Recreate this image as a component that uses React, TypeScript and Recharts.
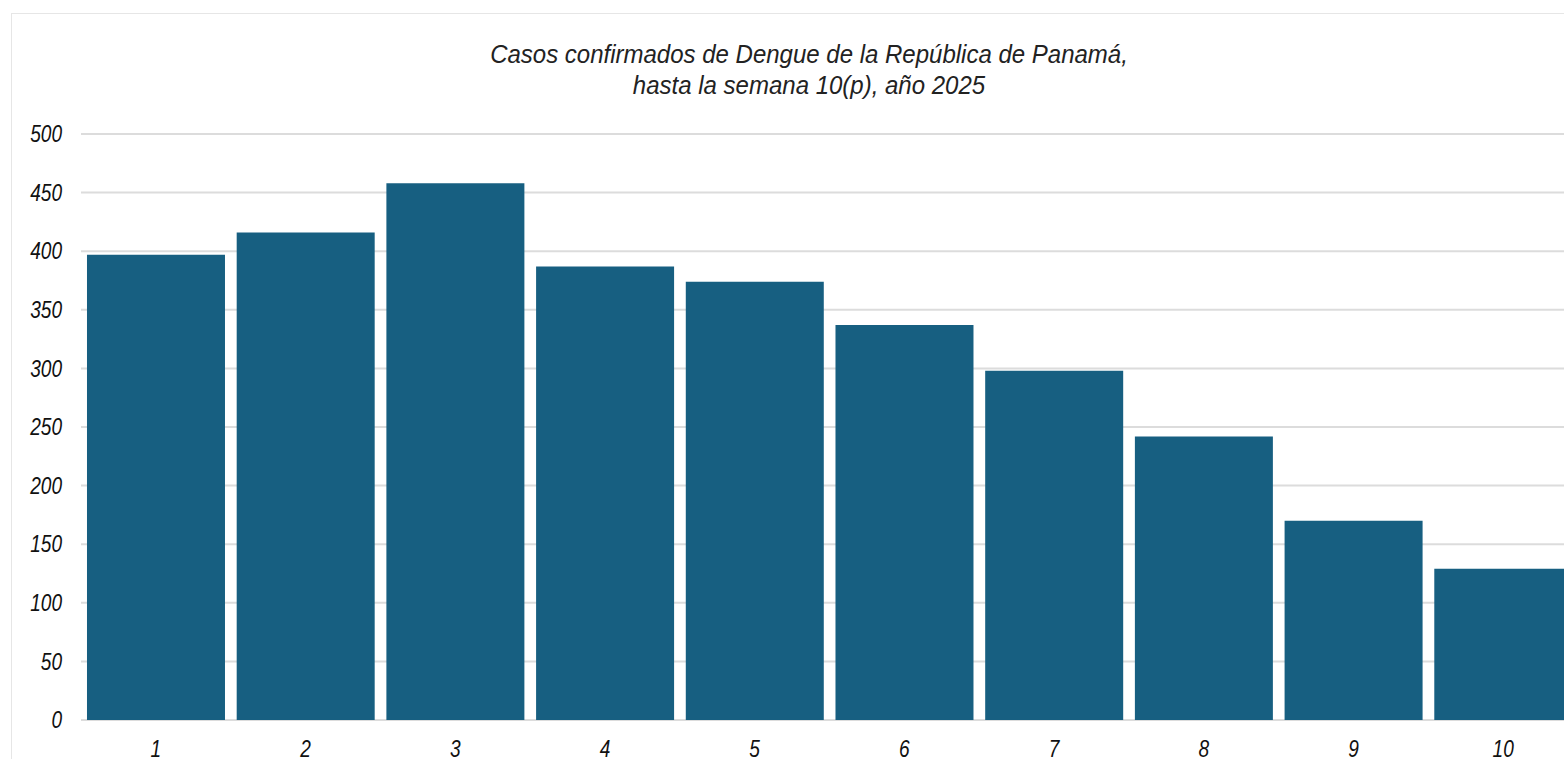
import React from 'react';
import { BarChart, Bar, XAxis, YAxis, CartesianGrid } from 'recharts';

// Semanas epidemiológicas y casos confirmados
const semanas = ['1', '2', '3', '4', '5', '6', '7', '8', '9', '10'];
const casos = [397, 416, 458, 387, 374, 337, 298, 242, 170, 129];
const yTicks = [0, 50, 100, 150, 200, 250, 300, 350, 400, 450, 500];

const data = semanas.map((s, i) => ({ semana: s, casos: casos[i] }));

const FONT = '"Liberation Sans Narrow", "Arial Narrow", "Liberation Sans", Arial, sans-serif';

// narrow italic tick text (Arial Narrow look)
const NarrowTick = (props: any) => {
  const { x, y, payload, textAnchor, dy } = props;
  return (
    <g transform={`translate(${x},${y}) scale(0.83,1)`}>
      <text
        x={0}
        y={0}
        dy={dy}
        textAnchor={textAnchor}
        fill="#111"
        fontSize={23}
        fontStyle="italic"
        fontFamily={FONT}
      >
        {payload.value}
      </text>
    </g>
  );
};

const XTick = (props: any) => <NarrowTick {...props} dy="0.71em" textAnchor="middle" />;
const YTick = (props: any) => <NarrowTick {...props} dy="0.355em" textAnchor="end" />;

export default function App() {
  return (
    <div style={{ position: 'fixed', left: 0, top: 0, width: 1564, height: 759, overflow: 'hidden', background: '#fff', fontFamily: FONT }}>
      {/* chart frame */}
      <div style={{ position: 'absolute', left: 11, top: 13, width: 1600, height: 800, border: '1px solid #e6e6e6' }} />
      <div style={{ position: 'absolute', left: 409, top: 39, width: 800, textAlign: 'center', fontStyle: 'italic', fontSize: 25, lineHeight: '31px', color: '#222', transform: 'scaleX(0.96)' }}>
        Casos confirmados de Dengue de la República de Panamá,
        <br />
        hasta la semana 10(p), año 2025
      </div>
      <div style={{ position: 'absolute', left: 0, top: 0 }}>
        <BarChart
          width={1600}
          height={759}
          data={data}
          margin={{ top: 134, right: 22, bottom: 0, left: 21 }}
          barCategoryGap="4%"
        >
          <CartesianGrid vertical={false} stroke="#dcdcdc" strokeWidth={2} />
          <XAxis
            dataKey="semana"
            height={39}
            axisLine={false}
            tickLine={false}
            tickMargin={15}
            tick={<XTick />}
          />
          <YAxis
            width={60}
            domain={[0, 500]}
            ticks={yTicks}
            axisLine={false}
            tickLine={false}
            tickMargin={13}
            tick={<YTick />}
          />
          <Bar dataKey="casos" fill="#175f81" isAnimationActive={false} />
        </BarChart>
      </div>
    </div>
  );
}
